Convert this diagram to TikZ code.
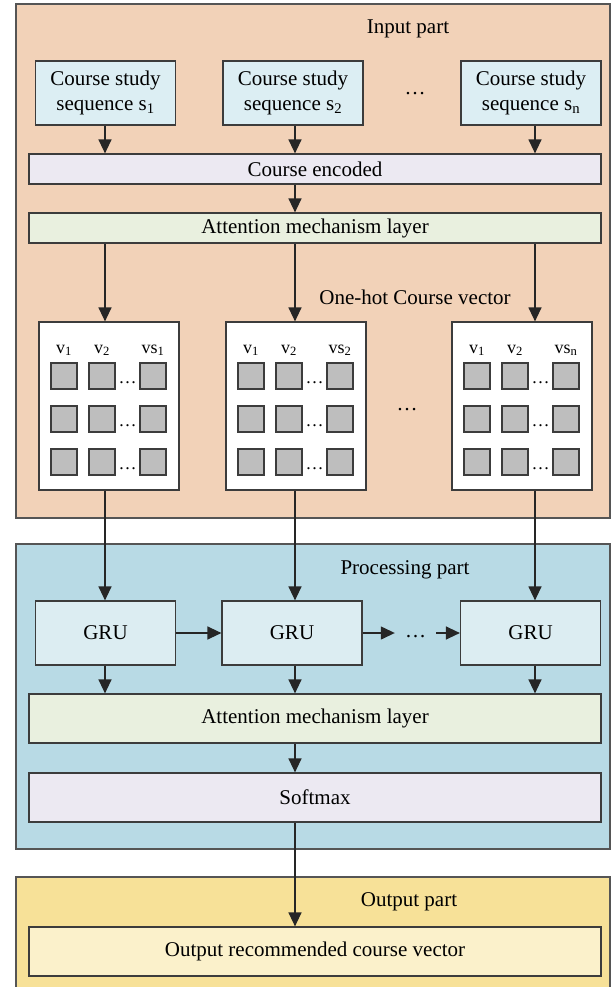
\documentclass[tikz,border=0pt]{standalone}
\usepackage{fontspec}
\setmainfont{Liberation Serif}
\usetikzlibrary{arrows.meta}

\definecolor{inputbg}{HTML}{F2D2B8}
\definecolor{procbg}{HTML}{B8DAE5}
\definecolor{outbg}{HTML}{F7E198}
\definecolor{seqfill}{HTML}{DCEEF3}
\definecolor{encfill}{HTML}{ECE9F2}
\definecolor{attfill}{HTML}{E9F0DF}
\definecolor{grufill}{HTML}{DCEDF2}
\definecolor{outfill}{HTML}{FBF1CB}
\definecolor{cellfill}{HTML}{BEBEBE}
\definecolor{edge}{HTML}{3C3C3C}
\definecolor{partedge}{HTML}{555555}

\begin{document}
\begin{tikzpicture}[x=1pt,y=-1pt,
  font=\fontsize{21}{25}\selectfont,
  part/.style={draw=partedge,line width=1.2pt},
  blk/.style={draw=edge,line width=1.2pt,inner sep=0pt,align=center},
  seqbox/.style={blk,fill=seqfill,minimum width=140pt,minimum height=64pt},
  barbox/.style={blk,minimum width=572pt},
  grubox/.style={blk,fill=grufill,minimum width=140pt,minimum height=64pt},
  matbox/.style={blk,fill=white,minimum width=140pt,minimum height=168pt},
  cell/.style={draw=edge,line width=1.1pt,fill=cellfill,minimum size=26pt,inner sep=0pt},
  veclbl/.style={font=\fontsize{18}{20}\selectfont,anchor=base,inner sep=0pt},
  celldots/.style={font=\fontsize{18}{20}\selectfont,anchor=base,inner sep=0pt},
  title/.style={inner sep=0pt},
  flow/.style={line width=1.3pt,draw=black!85,-{Triangle[length=14pt,width=13pt]}},
  plain/.style={line width=1.3pt,draw=black!85}]

\useasboundingbox (0,0) rectangle (611,987);

% column positions of the vertical connectors
\coordinate (colA) at (105,0);
\coordinate (colB) at (295,0);
\coordinate (colC) at (535,0);

% ---------- three part panels ----------
\draw[part,fill=inputbg] (16,4) rectangle (610,518);
\draw[part,fill=procbg]  (16,544) rectangle (610,849);
\draw[part,fill=outbg]   (16,877) rectangle (610,995);

\node[title] (tin)   at (408,29)  {Input part};
\node[title] (tproc) at (405,570) {Processing part};
\node[title] (tout)  at (409,902) {Output part};

% ---------- input part ----------
\node[seqbox] (seq1) at (105.5,93) {Course study\\sequence s\textsubscript{1}};
\node[seqbox] (seq2) at (293,93)   {Course study\\sequence s\textsubscript{2}};
\node[seqbox] (seq3) at (531,93)   {Course study\\sequence s\textsubscript{n}};
\node[title]  (sdots) at (415,94)  {\ldots};

\node[barbox,fill=encfill,minimum height=30pt] (enc)  at (315,169) {Course encoded};
\node[barbox,fill=attfill,minimum height=30pt] (att1) at (315,228) {Attention mechanism layer};

\node[title] (onehot) at (415,297) {One-hot Course vector};

\node[matbox] (m1) at (109,406) {};
\node[matbox] (m2) at (296,406) {};
\node[matbox] (m3) at (522,406) {};
\node[title]  (mdots) at (407,410) {\ldots};

% one-hot grids inside the three vector boxes
\foreach \m/\L/\s in {m1/39/1, m2/226/2, m3/452/n} {
  \node[veclbl] (\m-l1) at (\L+25,353)  {v\textsubscript{1}};
  \node[veclbl] (\m-l2) at (\L+63,353)  {v\textsubscript{2}};
  \node[veclbl] (\m-l3) at (\L+114,353) {vs\textsubscript{\s}};
  \foreach \r/\y in {1/376, 2/419, 3/462} {
    \foreach \c/\dx in {1/25, 2/63, 3/114}
      \node[cell] (\m-\r-\c) at (\L+\dx,\y) {};
    \node[celldots] (\m-d\r) at (\L+88.5,\y+7.5) {\ldots};
  }
}

% ---------- processing part ----------
\node[grubox] (g1) at (105.5,633) {GRU};
\node[grubox] (g2) at (292,633)   {GRU};
\node[grubox] (g3) at (530.5,633) {GRU};
\node[inner xsep=10pt,inner ysep=0pt,text height=14pt,text depth=5pt] (gdots) at (415.5,633) {\ldots};

\node[barbox,fill=attfill,minimum height=49pt] (att2) at (315,718.5) {Attention mechanism layer};
\node[barbox,fill=encfill,minimum height=49pt] (soft) at (315,797.5) {Softmax};

% ---------- output part ----------
\node[barbox,fill=outfill,minimum height=49pt] (outv) at (315,951.5) {Output recommended course vector};

% ---------- connectors ----------
\draw[flow] (seq1.south -| colA) -- (enc.north -| colA);
\draw[flow] (seq2.south -| colB) -- (enc.north -| colB);
\draw[flow] (seq3.south -| colC) -- (enc.north -| colC);
\draw[flow] (enc.south -| colB) -- (att1.north -| colB);

\draw[flow] (att1.south -| colA) -- (m1.north -| colA);
\draw[flow] (att1.south -| colB) -- (m2.north -| colB);
\draw[flow] (att1.south -| colC) -- (m3.north -| colC);

\draw[flow] (m1.south -| colA) -- (g1.north -| colA);
\draw[flow] (m2.south -| colB) -- (g2.north -| colB);
\draw[flow] (m3.south -| colC) -- (g3.north -| colC);

\draw[flow] (g1.east) -- (g2.west);
\draw[flow] (g2.east) -- (gdots.west);
\draw[flow] (gdots.east) -- (g3.west);

\draw[flow] (g1.south -| colA) -- (att2.north -| colA);
\draw[flow] (g2.south -| colB) -- (att2.north -| colB);
\draw[flow] (g3.south -| colC) -- (att2.north -| colC);
\draw[flow] (att2.south -| colB) -- (soft.north -| colB);

\draw[flow] (soft.south -| colB) -- (outv.north -| colB);

\end{tikzpicture}
\end{document}
